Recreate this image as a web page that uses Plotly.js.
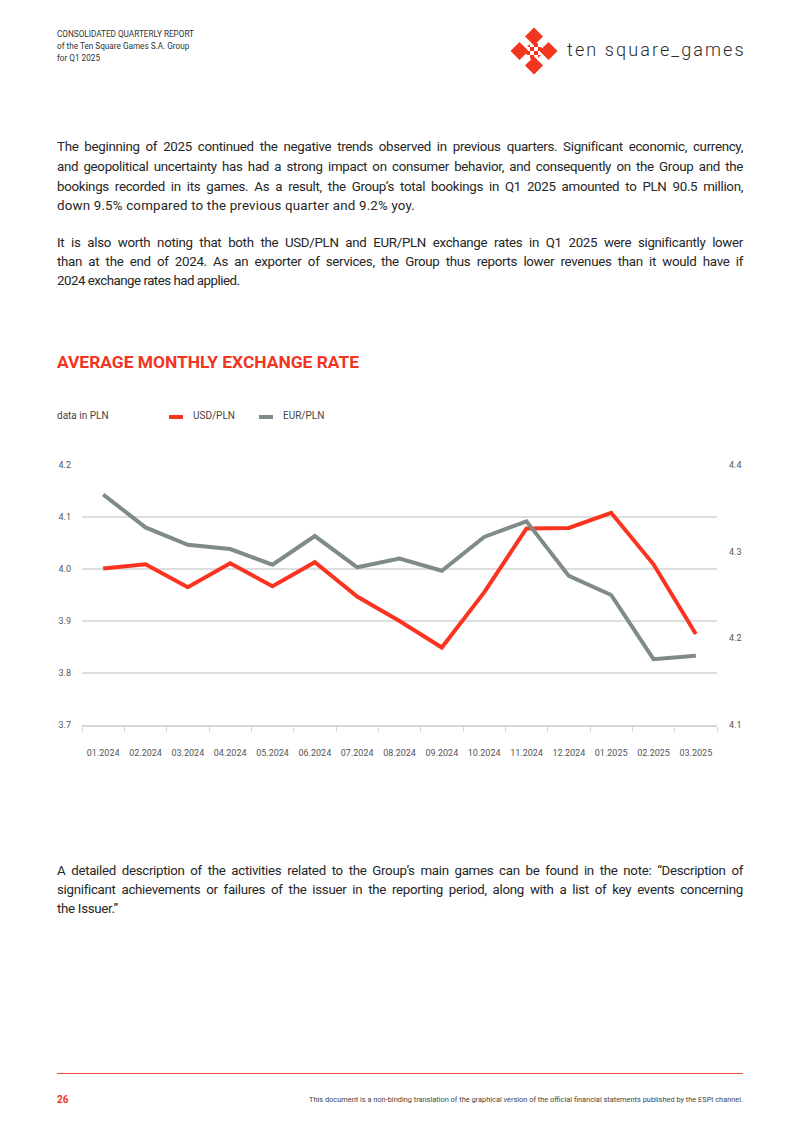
<!DOCTYPE html>
<html>
<head>
<meta charset="utf-8">
<script src="https://cdn.plot.ly/plotly-3.0.1.min.js"></script>
<style>
  html, body { margin:0; padding:0; background:#fff; }
  #page { position:relative; width:800px; height:1131px; overflow:hidden; font-family: Roboto, "Open Sans", sans-serif; color:#2a2a2a; }
  #chart { position:absolute; left:0; top:0; width:800px; height:1131px; }
  .abs { position:absolute; white-space:nowrap; }
  .hdr { font-size:8.2px; color:#333; left:57px; line-height:10px; }
  .ln { position:absolute; left:57px; width:686px; font-size:13.3px; line-height:16px; white-space:nowrap; color:#262626; letter-spacing:-0.3px; }
  .j { text-align:justify; text-align-last:justify; }
  .sw { position:absolute; height:4px; width:14px; }
</style>
</head>
<body>
<div id="page">
  <div id="chart"></div>

  <div class="abs hdr" style="top:29px;">CONSOLIDATED QUARTERLY REPORT</div>
  <div class="abs hdr" style="top:41px;">of the Ten Square Games S.A. Group</div>
  <div class="abs hdr" style="top:53px;">for Q1 2025</div>

  <svg class="abs" style="left:505px; top:22px;" width="60" height="58" viewBox="505 22 60 58">
    <defs>
      <clipPath id="dia"><polygon points="534,40 545,51 534,62 523,51"/></clipPath>
    </defs>
    <g fill="#f2351f">
      <polygon points="534,27.5 543,36.5 534,45.5 525,36.5"/>
      <polygon points="519.5,42 528.5,51 519.5,60 510.5,51"/>
      <polygon points="548.5,42 557.5,51 548.5,60 539.5,51"/>
      <polygon points="534,56.5 543,65.5 534,74.5 525,65.5"/>
      <g clip-path="url(#dia)">
        <rect x="522" y="39" width="4" height="4"/><rect x="530" y="39" width="4" height="4"/><rect x="538" y="39" width="4" height="4"/>
        <rect x="526" y="43" width="4" height="4"/><rect x="534" y="43" width="4" height="4"/><rect x="542" y="43" width="4" height="4"/>
        <rect x="522" y="47" width="4" height="4"/><rect x="530" y="47" width="4" height="4"/><rect x="538" y="47" width="4" height="4"/>
        <rect x="526" y="51" width="4" height="4"/><rect x="534" y="51" width="4" height="4"/><rect x="542" y="51" width="4" height="4"/>
        <rect x="522" y="55" width="4" height="4"/><rect x="530" y="55" width="4" height="4"/><rect x="538" y="55" width="4" height="4"/>
        <rect x="526" y="59" width="4" height="4"/><rect x="534" y="59" width="4" height="4"/>
      </g>
    </g>
  </svg>
  <div class="abs" style="left:567px; top:39px; font-size:18px; font-weight:300; letter-spacing:2.1px; color:#2b2b2b;">ten square_games</div>

  <div class="ln j" style="top:139px;">The beginning of 2025 continued the negative trends observed in previous quarters. Significant economic, currency,</div>
  <div class="ln j" style="top:159px;">and geopolitical uncertainty has had a strong impact on consumer behavior, and consequently on the Group and the</div>
  <div class="ln j" style="top:179px;">bookings recorded in its games. As a result, the Group’s total bookings in Q1 2025 amounted to PLN 90.5 million,</div>
  <div class="ln" style="top:198px; letter-spacing:0.2px;">down 9.5% compared to the previous quarter and 9.2% yoy.</div>

  <div class="ln j" style="top:235px;">It is also worth noting that both the USD/PLN and EUR/PLN exchange rates in Q1 2025 were significantly lower</div>
  <div class="ln j" style="top:254px;">than at the end of 2024. As an exporter of services, the Group thus reports lower revenues than it would have if</div>
  <div class="ln" style="top:273px; letter-spacing:-0.5px;">2024 exchange rates had applied.</div>

  <div class="abs" style="left:57px; top:352px; font-size:17.4px; font-weight:700; color:#f2351f; letter-spacing:0px;">AVERAGE MONTHLY EXCHANGE RATE</div>

  <div class="abs" style="left:57px; top:410px; font-size:10px; color:#444;">data in PLN</div>
  <div class="sw" style="left:169px; top:415px; background:#fa3420;"></div>
  <div class="abs" style="left:193px; top:410px; font-size:10px; color:#444;">USD/PLN</div>
  <div class="sw" style="left:259px; top:415px; background:#7f8b88;"></div>
  <div class="abs" style="left:283px; top:410px; font-size:10px; color:#444;">EUR/PLN</div>

  <div class="ln j" style="top:863px;">A detailed description of the activities related to the Group’s main games can be found in the note: “Description of</div>
  <div class="ln j" style="top:882px;">significant achievements or failures of the issuer in the reporting period, along with a list of key events concerning</div>
  <div class="ln" style="top:901px;">the Issuer.”</div>

  <div class="abs" style="left:57px; top:1073px; width:686px; height:1.3px; background:#f2513d;"></div>
  <div class="abs" style="left:57px; top:1094px; font-size:10px; font-weight:700; color:#f2351f;">26</div>
  <div class="abs" style="right:57px; top:1095px; font-size:7.4px; color:#444;">This document is a non-binding translation of the graphical version of the official financial statements published by the ESPI channel.</div>
</div>

<script>
const months = ["01.2024","02.2024","03.2024","04.2024","05.2024","06.2024","07.2024","08.2024","09.2024","10.2024","11.2024","12.2024","01.2025","02.2025","03.2025"];
const usdPln = [4.001, 4.009, 3.965, 4.011, 3.967, 4.013, 3.947, 3.900, 3.849, 3.955, 4.078, 4.079, 4.108, 4.009, 3.875];
const eurPln = [4.366, 4.328, 4.308, 4.303, 4.285, 4.318, 4.282, 4.292, 4.278, 4.317, 4.335, 4.272, 4.250, 4.176, 4.180];
const leftTicks = [3.7, 3.8, 3.9, 4.0, 4.1, 4.2];
const rightTicks = [4.1, 4.2, 4.3, 4.4];

const traces = [
  { x: months, y: usdPln, type: "scatter", mode: "lines", name: "USD/PLN",
    line: { color: "#fa3420", width: 4, shape: "linear" }, yaxis: "y" },
  { x: months, y: eurPln, type: "scatter", mode: "lines", name: "EUR/PLN",
    line: { color: "#7f8b88", width: 4, shape: "linear" }, yaxis: "y2" }
];

const tickFont = { family: "Roboto, sans-serif", size: 9, color: "#555" };

const layout = {
  width: 800, height: 1131,
  margin: { l: 82, r: 82.5, t: 465, b: 406, pad: 0 },
  paper_bgcolor: "rgba(0,0,0,0)",
  plot_bgcolor: "rgba(0,0,0,0)",
  showlegend: false,
  xaxis: {
    type: "category",
    range: [-0.5, months.length - 0.5],
    tickson: "boundaries",
    ticks: "outside", ticklen: 5, tickwidth: 1, tickcolor: "#d3d6d5",
    showline: true, linecolor: "#d3d6d5", linewidth: 1.5,
    showgrid: false, zeroline: false,
    tickfont: tickFont, ticklabelstandoff: 19,
    fixedrange: true
  },
  yaxis: {
    range: [3.7, 4.2], tickvals: leftTicks, tickformat: ".1f",
    showgrid: true, gridcolor: "#dcdfde", gridwidth: 1.5,
    zeroline: false, showline: false, ticks: "",
    tickfont: tickFont, ticklabelstandoff: 10
  },
  yaxis2: {
    range: [4.1, 4.4], tickvals: rightTicks, tickformat: ".1f",
    overlaying: "y", side: "right",
    showgrid: false, zeroline: false, showline: false, ticks: "",
    tickfont: tickFont, ticklabelstandoff: 11
  }
};

Plotly.newPlot("chart", traces, layout, { staticPlot: true, displayModeBar: false });
</script>
</body>
</html>
